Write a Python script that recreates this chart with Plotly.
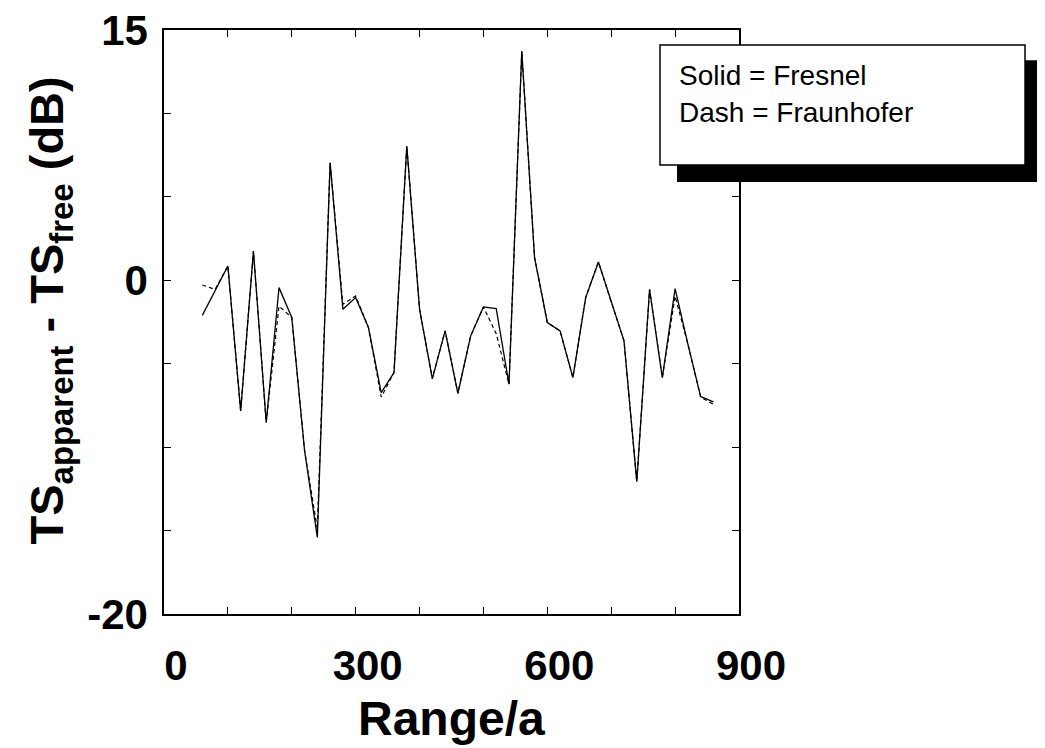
import plotly.graph_objects as go

range_a = list(range(60, 861, 20))
fresnel = [-2.1, -0.6, 0.86, -7.83, 1.75, -8.52, -0.44, -2.23, -10.2, -15.41,
           7.05, -1.74, -1.04, -2.83, -6.73, -5.53, 8.04, -1.74, -5.89, -3.03,
           -6.77, -3.33, -1.6, -1.7, -6.23, 13.73, 1.36, -2.53, -3.03, -5.83,
           -1.04, 1.10, -1.3, -3.63, -12.07, -0.55, -5.83, -0.5, -3.83, -6.97, -7.29]
fraunhofer = [-0.28, -0.55, 0.86, -7.83, 1.75, -8.52, -1.55, -2.23, -10.2, -14.9,
              7.05, -1.44, -0.94, -2.83, -7.0, -5.53, 8.04, -1.74, -5.89, -3.03,
              -6.77, -3.33, -1.6, -3.2, -6.23, 13.73, 1.36, -2.53, -3.03, -5.83,
              -1.04, 1.10, -1.3, -3.63, -12.07, -0.55, -5.83, -0.95, -3.83, -7.0, -7.43]

x_ticks = list(range(0, 901, 100))
x_ticktext = ["0", "", "", "300", "", "", "600", "", "", "900"]
y_ticks = [-20, -15, -10, -5, 0, 5, 10, 15]
y_ticktext = ["-20", "", "", "", "0", "", "", "15"]

legend_lines = ["Solid = Fresnel", "Dash = Fraunhofer"]

fig = go.Figure()
fig.add_trace(go.Scatter(x=range_a, y=fraunhofer, mode="lines",
                         line=dict(color="black", width=1.2, dash="4px,3px"),
                         showlegend=False))
fig.add_trace(go.Scatter(x=range_a, y=fresnel, mode="lines",
                         line=dict(color="black", width=1.3),
                         showlegend=False))

tick_font = dict(family="Liberation Sans, Arial, sans-serif", size=42, color="black", weight="bold")

fig.update_xaxes(range=[0, 900], tickvals=x_ticks, ticktext=x_ticktext,
                 ticks="inside", ticklen=7, tickwidth=1.2, tickcolor="black",
                 showline=True, linecolor="black", linewidth=1.5, mirror="ticks",
                 showgrid=False, zeroline=False, tickfont=tick_font,
                 ticklabelshift=12, ticklabelstandoff=14, automargin=False,
                 ticklabeloverflow="allow")
fig.update_yaxes(range=[-20, 15], tickvals=y_ticks, ticktext=y_ticktext,
                 ticks="inside", ticklen=7, tickwidth=1.2, tickcolor="black",
                 showline=True, linecolor="black", linewidth=1.5, mirror="ticks",
                 showgrid=False, zeroline=False, tickfont=tick_font,
                 ticklabelstandoff=6, automargin=False, ticklabeloverflow="allow")

# plot frame (figure px): left 156, right 731, top 22, bottom 606
plot_h = 584

fig.add_annotation(xref="paper", yref="paper", x=0.5, y=-(710 - 606) / plot_h,
                   text="<b>Range/a</b>", showarrow=False,
                   xanchor="center", yanchor="middle",
                   font=dict(family="Liberation Sans, Arial, sans-serif", size=48, color="black"))

fig.add_annotation(xref="paper", yref="paper", x=-0.198, y=0.52,
                   text="<b>TS<sub>apparent</sub> - TS<sub>free</sub> (dB)</b>",
                   textangle=-90, showarrow=False, xanchor="center", yanchor="middle",
                   font=dict(family="Liberation Sans, Arial, sans-serif", size=47, color="black"))

# legend box with shadow
fig.add_shape(type="rect", xref="paper", yref="paper",
              x0=0.8922, x1=1.535, y0=0.7397, y1=0.948,
              fillcolor="black", line=dict(color="black", width=0), layer="above")
fig.add_shape(type="rect", xref="paper", yref="paper",
              x0=0.8626, x1=1.4974, y0=0.7688, y1=0.9743,
              fillcolor="white", line=dict(color="black", width=1.5), layer="above")
fig.add_annotation(xref="paper", yref="paper", x=0.8922, y=(606 - 67) / plot_h,
                   text=legend_lines[0], xanchor="left", yanchor="middle", showarrow=False,
                   font=dict(family="Liberation Sans, Arial, sans-serif", size=28, color="black"))
fig.add_annotation(xref="paper", yref="paper", x=0.8922, y=(606 - 105) / plot_h,
                   text=legend_lines[1], xanchor="left", yanchor="middle", showarrow=False,
                   font=dict(family="Liberation Sans, Arial, sans-serif", size=28, color="black"))

fig.update_layout(width=1037, height=740, plot_bgcolor="white", paper_bgcolor="white",
                  margin=dict(l=156, r=306, t=22, b=134), showlegend=False)

fig.write_html("out.html")
